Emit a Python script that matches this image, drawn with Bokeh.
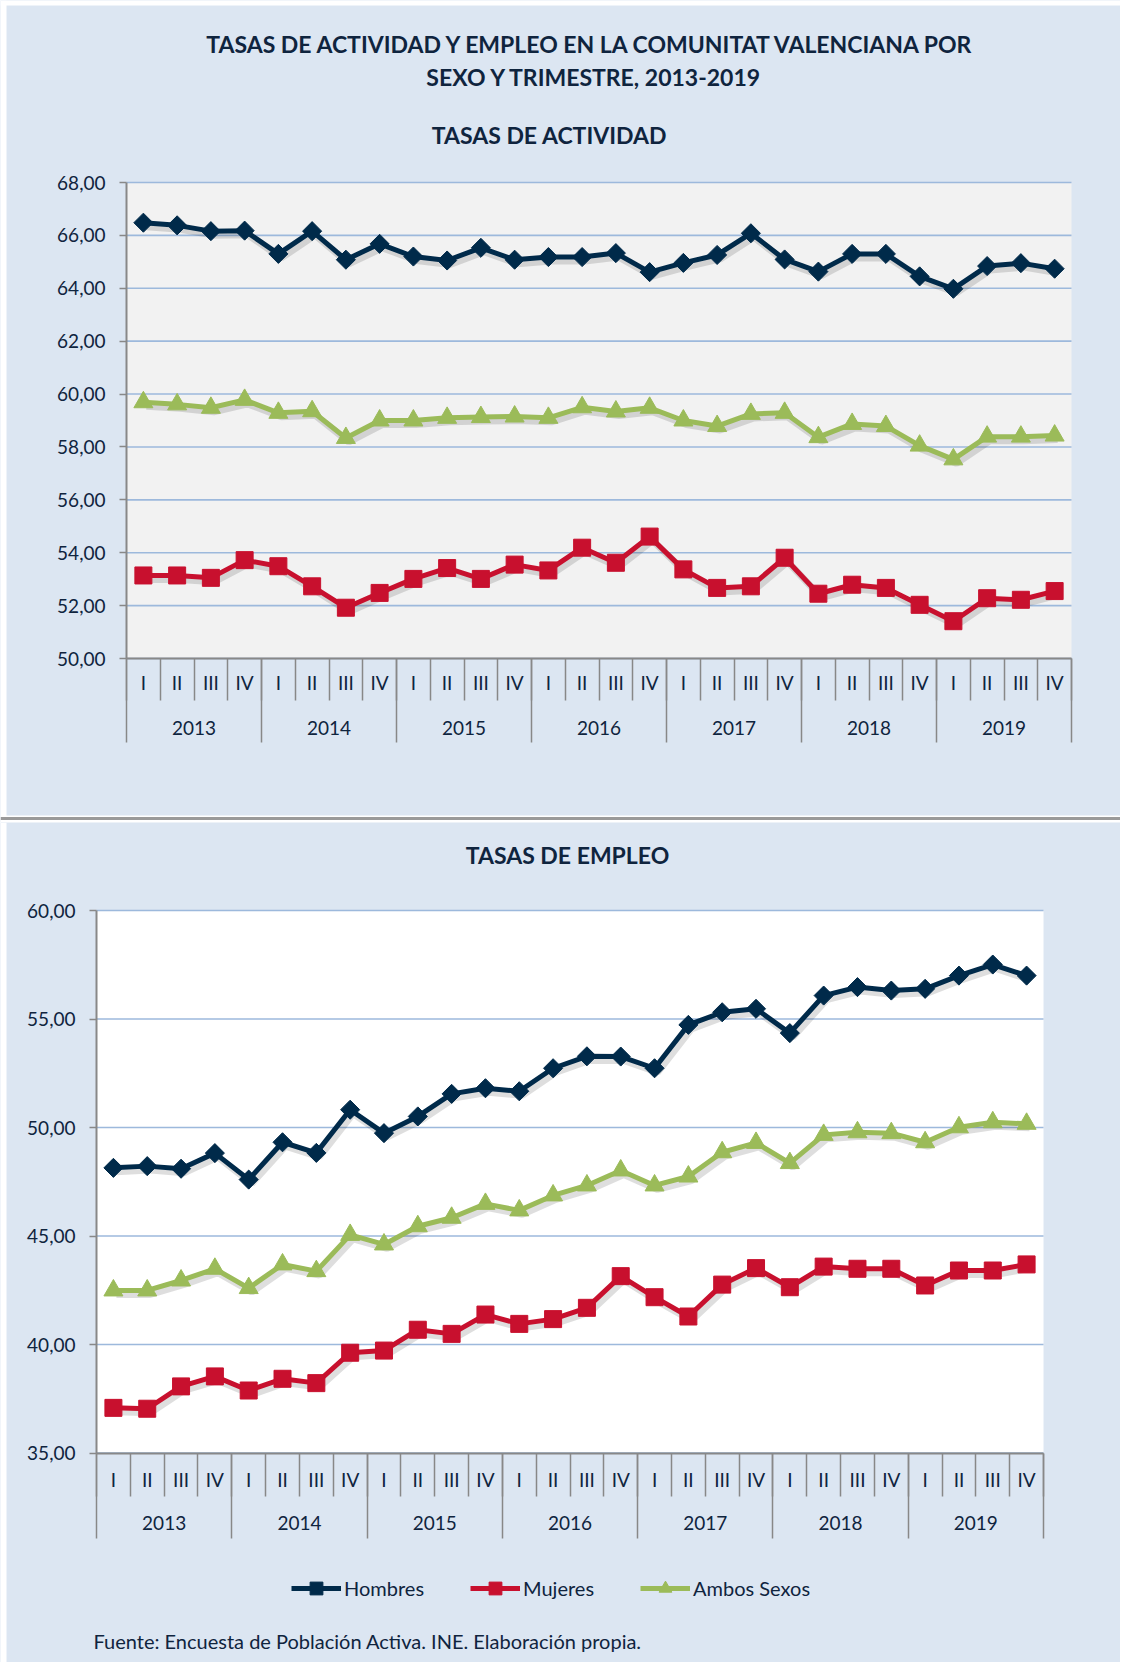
from bokeh.plotting import figure
from bokeh.models import (Range1d, FixedTicker, LinearAxis, Label, Legend,
                          LegendItem, BoxAnnotation)
from bokeh.layouts import column
from bokeh.embed import file_html
from bokeh.resources import INLINE

# ---------------- data ----------------
years = ["2013", "2014", "2015", "2016", "2017", "2018", "2019"]
quarters = ["I", "II", "III", "IV"]
series_names = ["Hombres", "Mujeres", "Ambos Sexos"]

# Tasas de actividad
act_hombres = [66.48, 66.38, 66.16, 66.18, 65.30, 66.16, 65.08, 65.68, 65.20, 65.05,
               65.53, 65.08, 65.18, 65.18, 65.33, 64.61, 64.96, 65.26, 66.08, 65.09,
               64.63, 65.30, 65.30, 64.45, 63.98, 64.84, 64.95, 64.74]
act_mujeres = [53.14, 53.14, 53.05, 53.72, 53.49, 52.73, 51.92, 52.48, 53.01, 53.42,
               53.01, 53.55, 53.33, 54.19, 53.62, 54.61, 53.37, 52.67, 52.73, 53.81,
               52.45, 52.79, 52.67, 52.03, 51.41, 52.28, 52.22, 52.55]
act_ambos = [59.69, 59.61, 59.48, 59.78, 59.29, 59.35, 58.34, 59.00, 59.00, 59.10,
             59.13, 59.15, 59.10, 59.50, 59.34, 59.48, 59.00, 58.79, 59.25, 59.29,
             58.37, 58.87, 58.79, 58.05, 57.53, 58.39, 58.39, 58.43]

# Tasas de empleo
emp_hombres = [48.14, 48.22, 48.10, 48.82, 47.60, 49.32, 48.83, 50.82, 49.74, 50.51,
               51.55, 51.81, 51.67, 52.73, 53.28, 53.27, 52.73, 54.73, 55.31, 55.47,
               54.35, 56.08, 56.47, 56.31, 56.39, 57.00, 57.51, 57.00]
emp_mujeres = [37.08, 37.04, 38.07, 38.53, 37.88, 38.42, 38.22, 39.62, 39.72, 40.68,
               40.49, 41.38, 40.95, 41.17, 41.69, 43.15, 42.18, 41.29, 42.76, 43.52,
               42.64, 43.59, 43.49, 43.49, 42.72, 43.41, 43.41, 43.69]
emp_ambos = [42.49, 42.49, 42.95, 43.49, 42.60, 43.69, 43.38, 45.05, 44.61, 45.45,
             45.84, 46.48, 46.18, 46.87, 47.33, 48.02, 47.33, 47.74, 48.86, 49.29,
             48.36, 49.66, 49.78, 49.74, 49.32, 50.01, 50.24, 50.17]

act_ticks = [50, 52, 54, 56, 58, 60, 62, 64, 66, 68]
emp_ticks = [35, 40, 45, 50, 55, 60]

main_title_1 = "TASAS DE ACTIVIDAD Y EMPLEO EN LA COMUNITAT VALENCIANA  POR"
main_title_2 = "SEXO Y TRIMESTRE, 2013-2019"
act_title = "TASAS DE ACTIVIDAD"
emp_title = "TASAS DE EMPLEO"
source_note = "Fuente: Encuesta de Población Activa. INE. Elaboración propia."

# ---------------- style ----------------
FONT = "Lato"
TXT = "#0F243E"
BG = "#DCE6F2"
GRID = "#9DB9DC"
AXIS = "#888888"
COLORS = ["#002A4A", "#C8102E", "#9BBB59"]
W = 1120


class Chart:
    def __init__(self, height, box, ticks, plot_bg):
        self.n = len(years) * len(quarters)
        self.H = height
        self.L, self.T, self.R, self.B = box
        self.ymin, self.ymax = ticks[0], ticks[-1]
        self.ppx = (self.R - self.L) / self.n
        self.ppy = (self.B - self.T) / (self.ymax - self.ymin)
        p = figure(width=W, height=height,
                   x_range=Range1d(self.xd(0), self.xd(W)),
                   y_range=Range1d(self.yd(height), self.yd(0)),
                   x_axis_type=None, y_axis_type=None,
                   output_backend="svg", toolbar_location=None,
                   min_border_left=0, min_border_right=0,
                   min_border_top=0, min_border_bottom=0)
        p.background_fill_color = BG
        p.border_fill_color = BG
        p.outline_line_color = None
        p.add_layout(BoxAnnotation(left=0, right=self.n, bottom=self.ymin, top=self.ymax,
                                   fill_color=plot_bg, fill_alpha=1, line_color=None,
                                   level="image"))
        # horizontal gridlines, limited to the plot area
        p.segment(x0=[0] * len(ticks), x1=[self.n] * len(ticks), y0=ticks, y1=ticks,
                  line_color=GRID, line_width=1.6)
        self.p = p
        self.ticks = ticks

    def xd(self, px):
        return (px - self.L) / self.ppx

    def yd(self, py):
        return self.ymax - (py - self.T) / self.ppy

    def axes(self, q_sep, y_sep, q_center, y_center):
        p = self.p
        ticks = self.ticks
        yax = LinearAxis(fixed_location=0, bounds=(self.ymin, self.ymax),
                         ticker=FixedTicker(ticks=ticks),
                         major_label_overrides={float(t): f"{t:.2f}".replace(".", ",") for t in ticks})
        yax.axis_line_color = AXIS
        yax.axis_line_width = 2
        yax.major_tick_line_color = AXIS
        yax.major_tick_line_width = 1.5
        yax.major_tick_out = 7
        yax.major_tick_in = 0
        yax.minor_tick_line_color = None
        yax.major_label_standoff = 14
        yax.major_label_text_font = FONT
        yax.major_label_text_font_size = "19px"
        yax.major_label_text_color = TXT
        p.add_layout(yax, "left")

        n = self.n
        nq = len(quarters)
        centers = [i + 0.5 for i in range(n)]
        qax = LinearAxis(fixed_location=self.ymin, bounds=(0, n),
                         ticker=FixedTicker(ticks=centers, minor_ticks=list(range(n + 1))),
                         major_label_overrides={c: quarters[i % nq] for i, c in enumerate(centers)})
        qax.axis_line_color = AXIS
        qax.axis_line_width = 2
        qax.major_tick_line_color = None
        qax.major_tick_out = 0
        qax.major_tick_in = 0
        qax.minor_tick_line_color = AXIS
        qax.minor_tick_line_width = 1.5
        qax.minor_tick_in = 0
        qax.minor_tick_out = q_sep
        qax.major_label_standoff = q_center - 13 - q_sep
        qax.major_label_text_font = FONT
        qax.major_label_text_font_size = "19px"
        qax.major_label_text_color = TXT
        p.add_layout(qax, "below")

        ycent = [i * nq + nq / 2 for i in range(len(years))]
        yrax = LinearAxis(fixed_location=self.ymin, bounds=(0, n),
                          ticker=FixedTicker(ticks=ycent,
                                             minor_ticks=[i * nq for i in range(len(years) + 1)]),
                          major_label_overrides={float(c): years[i] for i, c in enumerate(ycent)})
        yrax.axis_line_color = None
        yrax.major_tick_line_color = None
        yrax.major_tick_out = 0
        yrax.major_tick_in = 0
        yrax.minor_tick_line_color = AXIS
        yrax.minor_tick_line_width = 1.5
        yrax.minor_tick_in = 0
        yrax.minor_tick_out = y_sep
        yrax.major_label_standoff = y_center - 13 - y_sep
        yrax.major_label_text_font = FONT
        yrax.major_label_text_font_size = "19px"
        yrax.major_label_text_color = TXT
        p.add_layout(yrax, "below")
        return centers

    def series(self, series, centers):
        p = self.p
        dx = 3.0 / self.ppx
        dy = 4.0 / self.ppy
        for vals in series:
            p.line([c + dx for c in centers], [v - dy for v in vals],
                   line_color="black", line_alpha=0.13, line_width=7)
        rends = []
        markers = [("square", 13.5, 0.785398), ("square", 17, 0.0), ("triangle", 19, 0.0)]
        for vals, col, (mk, sz, ang) in zip(series, COLORS, markers):
            ln = p.line(centers, vals, line_color=col, line_width=5, line_join="round")
            sc = p.scatter(centers, vals, marker=mk, size=sz, angle=ang,
                           fill_color=col, line_color=col)
            rends.append((ln, sc))
        return rends

    def label(self, text, px, py, size, bold=True, align="center"):
        self.p.add_layout(Label(x=self.xd(px), y=self.yd(py), text=text,
                                text_font=FONT, text_font_size=size,
                                text_font_style="bold" if bold else "normal",
                                text_color=TXT, text_align=align, text_baseline="middle"))

    def band(self, top_px, bottom_px, color, left_px=None, right_px=None):
        self.p.add_layout(BoxAnnotation(
            top=self.yd(top_px), bottom=self.yd(bottom_px),
            left=None if left_px is None else self.xd(left_px),
            right=None if right_px is None else self.xd(right_px),
            fill_color=color, fill_alpha=1, line_color=None, level="overlay"))


# ---------- chart 1 (activity) ----------
H1 = 822
c1 = Chart(H1, (126, 182, 1071, 658), act_ticks, "#F2F2F2")
cent1 = c1.axes(q_sep=42, y_sep=84, q_center=25, y_center=75)
c1.series([act_hombres, act_mujeres, act_ambos], cent1)
c1.label(main_title_1, 594, 43, "23px")
c1.label(main_title_2, 594, 76, "23px")
c1.label(act_title, 549, 134, "23px")
# white page edge and separator between both panels
c1.band(0, 5, "white")
c1.band(0, H1, "white", left_px=0, right_px=6)
c1.band(815, H1, "white")
c1.band(816.5, 819.5, "#9A9A9A")

# ---------- chart 2 (employment) ----------
H2 = 840
c2 = Chart(H2, (96, 910 - H1, 1043, 1452.5 - H1), emp_ticks, "white")
cent2 = c2.axes(q_sep=43, y_sep=85, q_center=28, y_center=76)
rends = c2.series([emp_hombres, emp_mujeres, emp_ambos], cent2)
c2.label(emp_title, 567, 854 - H1, "23px")
c2.label(source_note, 93, 1640 - H1, "20px", bold=False, align="left")
c2.band(0, H2, "white", left_px=0, right_px=6)

items = [LegendItem(label=name, renderers=list(r)) for name, r in zip(series_names, rends)]
legend = Legend(items=items, orientation="horizontal", location=(291, H2 - (1588 - H1) - 16),
                background_fill_alpha=0, border_line_alpha=0, padding=0, margin=0,
                spacing=46, glyph_width=50, glyph_height=32, label_standoff=3,
                label_text_font=FONT, label_text_font_size="20px", label_text_color=TXT)
c2.p.add_layout(legend)

layout = column(c1.p, c2.p, spacing=0)
open("out.html", "w").write(file_html(layout, INLINE))
